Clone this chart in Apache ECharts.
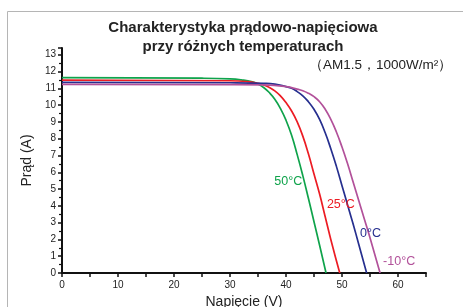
<!DOCTYPE html>
<html>
<head>
<meta charset="utf-8">
<script src="https://cdn.jsdelivr.net/npm/echarts@6/dist/echarts.min.js"></script>
<style>
  html, body { margin: 0; padding: 0; background: #fff; }
  #chart { width: 463px; height: 307px; }
</style>
</head>
<body>
<div id="chart"></div>
<script>
// napięcie (V) i prąd (A)
const v50 = [0, 25, 30, 32, 34, 35, 36, 37, 38, 39, 40, 41, 42, 43, 44, 45, 46, 47.15];
const i50 = [11.63, 11.6, 11.56, 11.5, 11.38, 11.25, 11.05, 10.75, 10.35, 9.8, 9.1, 8.2, 7.05, 5.8, 4.45, 3.05, 1.65, 0];

const v25 = [0, 30, 33, 35, 36, 37, 38, 39, 40, 41, 42, 43, 44, 45, 46, 47, 48, 49.6];
const i25 = [11.49, 11.45, 11.4, 11.3, 11.2, 11.05, 10.85, 10.55, 10.15, 9.65, 9.0, 8.15, 7.1, 5.9, 4.7, 3.35, 2.0, 0];

const v0 = [0, 30, 36, 38, 40, 41, 42, 43, 44, 45, 46, 47, 48, 49, 50, 51, 52, 53, 54.4];
const i0 = [11.35, 11.33, 11.3, 11.25, 11.1, 11.0, 10.8, 10.55, 10.2, 9.75, 9.15, 8.35, 7.4, 6.35, 5.2, 4.05, 2.9, 1.7, 0];

const vm10 = [0, 30, 36, 40, 42, 43, 44, 45, 46, 47, 48, 49, 50, 51, 52, 53, 54, 55, 56.8];
const im10 = [11.23, 11.22, 11.2, 11.1, 10.95, 10.85, 10.7, 10.5, 10.2, 9.75, 9.15, 8.4, 7.5, 6.5, 5.4, 4.3, 3.2, 2.1, 0];

const seriesNames = ['50°C', '25°C', '0°C', '-10°C'];
const seriesColors = ['#0fa34b', '#ec1c24', '#262f8f', '#b2519a'];
// miejsca etykiet [V, A]
const labelPos = [[40.4, 5.45], [49.8, 4.1], [55.1, 2.35], [60.2, 0.66]];

const volts = [v50, v25, v0, vm10];
const amps = [i50, i25, i0, im10];

const chart = echarts.init(document.getElementById('chart'));

const series = volts.map(function (vs, k) {
  return {
    name: seriesNames[k],
    type: 'line',
    smooth: 0.5,
    showSymbol: false,
    data: vs.map(function (v, j) { return [v, amps[k][j]]; }),
    lineStyle: { color: seriesColors[k], width: 1.7 },
    itemStyle: { color: seriesColors[k] },
    markPoint: {
      symbol: 'circle',
      symbolSize: 0,
      data: [{ coord: labelPos[k] }],
      label: {
        show: true,
        position: 'inside',
        formatter: seriesNames[k],
        color: seriesColors[k],
        fontSize: 12.5,
        fontFamily: 'Liberation Sans'
      }
    }
  };
});

const option = {
  animation: false,
  textStyle: { fontFamily: 'Liberation Sans' },
  title: [
    {
      text: 'Charakterystyka prądowo-napięciowa\nprzy różnych temperaturach',
      left: 238,
      top: 13,
      textAlign: 'center',
      textStyle: { fontSize: 15, fontWeight: 'bold', color: '#222', lineHeight: 19, fontFamily: 'Liberation Sans' }
    },
    {
      text: '（AM1.5，1000W/m²）',
      left: 304,
      top: 53,
      textStyle: { fontSize: 13.5, fontWeight: 'normal', color: '#222', fontFamily: 'Liberation Sans' }
    }
  ],
  grid: { left: 62, right: 37, top: 48, bottom: 34, outerBoundsMode: 'none', containLabel: false },
  xAxis: {
    type: 'value',
    min: 0,
    max: 65,
    interval: 10,
    name: 'Napięcie (V)',
    nameLocation: 'middle',
    nameGap: 18,
    nameTextStyle: { fontSize: 14, color: '#222' },
    axisLine: { lineStyle: { color: '#111', width: 2 } },
    axisTick: { show: true, length: 4, lineStyle: { color: '#111', width: 1.5 } },
    minorTick: { show: true, splitNumber: 2, length: 4, lineStyle: { color: '#111', width: 1.5 } },
    axisLabel: { fontSize: 10, color: '#222', margin: 7, showMaxLabel: false },
    splitLine: { show: false }
  },
  yAxis: {
    type: 'value',
    min: 0,
    max: 13.4,
    interval: 1,
    name: 'Prąd (A)',
    nameLocation: 'middle',
    nameGap: 26,
    nameTextStyle: { fontSize: 14, color: '#222' },
    axisLine: { show: true, lineStyle: { color: '#111', width: 2 } },
    axisTick: { show: true, length: 4, lineStyle: { color: '#111', width: 1.5 } },
    minorTick: { show: true, splitNumber: 2, length: 3, lineStyle: { color: '#111', width: 1.2 } },
    axisLabel: { fontSize: 10, color: '#222', margin: 6, showMaxLabel: false },
    splitLine: { show: false }
  },
  graphic: [
    {
      type: 'rect',
      shape: { x: 7.5, y: 11.5, width: 480, height: 320 },
      style: { fill: 'none', stroke: '#b5b5b5', lineWidth: 1 },
      silent: true
    }
  ],
  series: series
};

chart.setOption(option);
</script>
</body>
</html>
